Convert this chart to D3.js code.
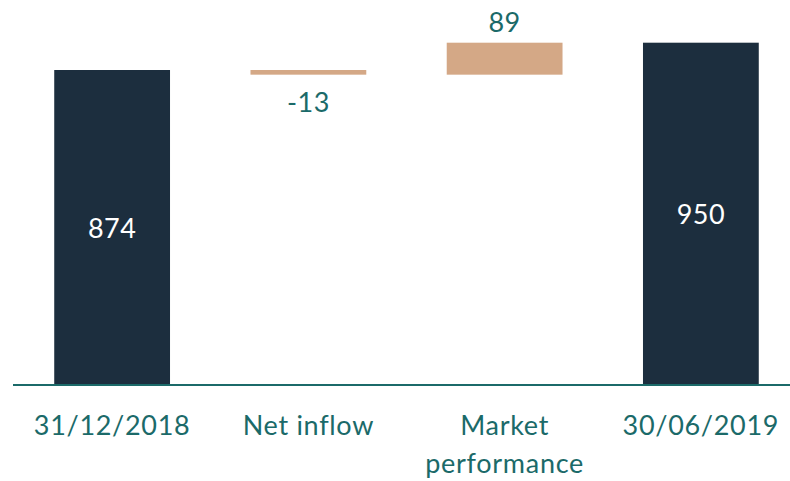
<!DOCTYPE html>
<html>
<head>
<meta charset="utf-8">
<script src="https://cdn.jsdelivr.net/npm/d3@7"></script>
<style>
  body { margin: 0; background: #fff; }
  svg { display: block; }
  text { font-family: Lato, "Open Sans", sans-serif; }
</style>
</head>
<body>
<div id="chart"></div>
<script>
// DATA //
const categories = ["31/12/2018", "Net inflow", "Market performance", "30/06/2019"];
const values = [874, -13, 89, 950];
const kinds = ["total", "delta", "delta", "total"];

// COLORS //
const navy = "#1c2e3e";
const tan = "#d4a886";
const teal = "#1b6a69";

const width = 790;
const height = 481;

// build waterfall steps
let running = 0;
const steps = categories.map((c, i) => {
  let start, end;
  if (kinds[i] === "total") {
    start = 0;
    end = values[i];
    running = values[i];
  } else {
    start = running;
    end = running + values[i];
    running = end;
  }
  return { cat: c, value: values[i], kind: kinds[i], start, end };
});

const svg = d3.select("#chart").append("svg")
  .attr("width", width)
  .attr("height", height);

const x = d3.scaleBand()
  .domain(categories)
  .range([14, 799])
  .paddingInner(0.41)
  .paddingOuter(0.205);

const y = d3.scaleLinear()
  .domain([0, 950])
  .range([384, 42.7]);

// bars
svg.selectAll("rect.bar")
  .data(steps)
  .join("rect")
  .attr("class", "bar")
  .attr("x", (d) => x(d.cat))
  .attr("width", x.bandwidth())
  .attr("y", (d) => y(Math.max(d.start, d.end)))
  .attr("height", (d) => Math.abs(y(d.start) - y(d.end)))
  .attr("fill", (d) => (d.kind === "total" ? navy : tan));

// baseline
svg.append("line")
  .attr("x1", 13)
  .attr("x2", width)
  .attr("y1", y(0) + 1)
  .attr("y2", y(0) + 1)
  .attr("stroke", teal)
  .attr("stroke-width", 2);

// value labels
svg.selectAll("text.value")
  .data(steps)
  .join("text")
  .attr("class", "value")
  .attr("x", (d) => x(d.cat) + x.bandwidth() / 2)
  .attr("y", (d) => {
    if (d.kind === "total") return (y(d.end) + y(0)) / 2;
    if (d.value < 0) return y(d.end) + 27;
    return y(d.end) - 21;
  })
  .attr("text-anchor", "middle")
  .attr("dominant-baseline", "central")
  .attr("font-size", 27)
  .attr("letter-spacing", 0.5)
  .attr("fill", (d) => (d.kind === "total" ? "#fff" : teal))
  .text((d) => d.value);

// category labels, wrapped on spaces when too long
const xLabels = svg.selectAll("text.cat")
  .data(steps)
  .join("text")
  .attr("class", "cat")
  .attr("text-anchor", "middle")
  .attr("font-size", 27)
  .attr("letter-spacing", 0.7)
  .attr("fill", teal);

xLabels.each(function (d) {
  const words = d.cat.length > 12 ? d.cat.split(" ") : [d.cat];
  d3.select(this).selectAll("tspan")
    .data(words)
    .join("tspan")
    .attr("x", x(d.cat) + x.bandwidth() / 2)
    .attr("y", (w, i) => 435 + i * 38)
    .text((w) => w);
});
</script>
</body>
</html>
